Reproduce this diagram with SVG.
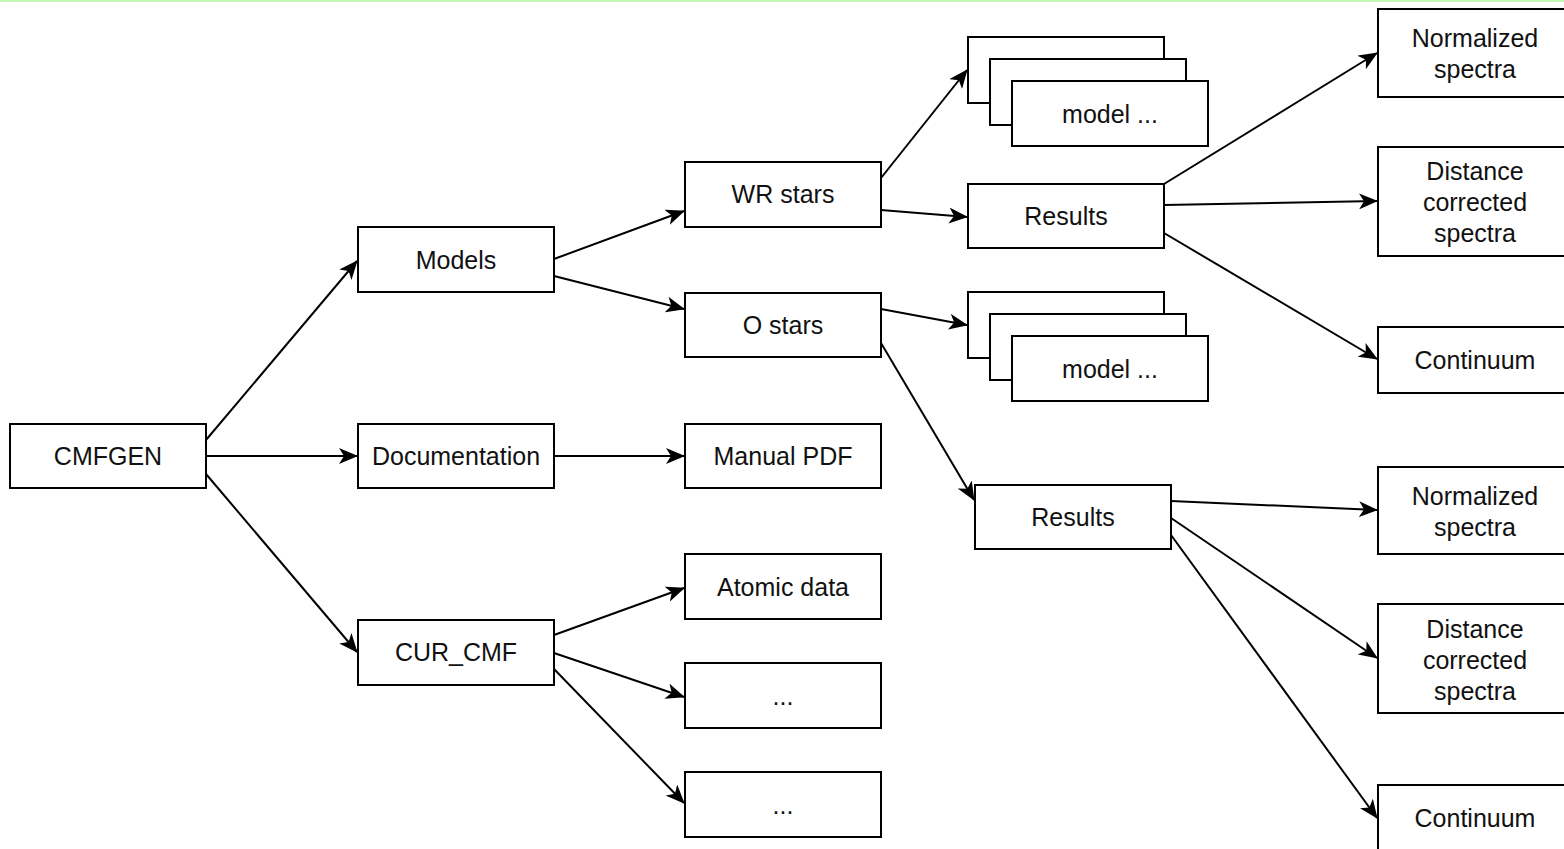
<svg xmlns="http://www.w3.org/2000/svg" width="1564" height="849" viewBox="0 0 1564 849">
<style>
  .box { fill: #ffffff; stroke: #000000; stroke-width: 2; }
  .lbl { font-family: "Liberation Sans", Arial, Helvetica, sans-serif; font-size: 25px; fill: #111111; text-anchor: middle; dominant-baseline: central; }
  .edge { fill: none; stroke: #000000; stroke-width: 2; marker-end: url(#arrow); }
</style>
<defs>
  <marker id="arrow" markerUnits="userSpaceOnUse" markerWidth="20" markerHeight="16" refX="18" refY="8" orient="auto">
    <path d="M0,0 L19,8 L0,16 L5,8 Z" fill="#000000"/>
  </marker>
</defs>
<rect x="0" y="0" width="1564" height="849" fill="#ffffff"/>
<line x1="0" y1="1" x2="1564" y2="1" stroke="#c4f7b8" stroke-width="2"/>

<g id="connectors">
  <line class="edge" x1="206" y1="440" x2="357" y2="261"/>
  <line class="edge" x1="206" y1="456" x2="357" y2="456"/>
  <line class="edge" x1="206" y1="474" x2="357" y2="652"/>
  <line class="edge" x1="554" y1="259" x2="684" y2="211"/>
  <line class="edge" x1="554" y1="276" x2="684" y2="309"/>
  <line class="edge" x1="554" y1="456" x2="684" y2="456"/>
  <line class="edge" x1="554" y1="635" x2="684" y2="588"/>
  <line class="edge" x1="554" y1="653" x2="684" y2="697"/>
  <line class="edge" x1="554" y1="669" x2="684" y2="803"/>
  <line class="edge" x1="881" y1="178" x2="967" y2="70"/>
  <line class="edge" x1="881" y1="210" x2="967" y2="217"/>
  <line class="edge" x1="881" y1="309" x2="967" y2="325"/>
  <line class="edge" x1="881" y1="343" x2="974" y2="500"/>
  <line class="edge" x1="1164" y1="184" x2="1377" y2="53"/>
  <line class="edge" x1="1164" y1="205" x2="1377" y2="201"/>
  <line class="edge" x1="1164" y1="233" x2="1377" y2="359"/>
  <line class="edge" x1="1171" y1="501" x2="1377" y2="510"/>
  <line class="edge" x1="1171" y1="518" x2="1377" y2="658"/>
  <line class="edge" x1="1171" y1="535" x2="1377" y2="818"/>
</g>

<g id="cmfgen"><rect class="box" x="10" y="424" width="196" height="64"/><text class="lbl" x="108" y="456">CMFGEN</text></g>
<g id="models"><rect class="box" x="358" y="227" width="196" height="65"/><text class="lbl" x="456" y="260">Models</text></g>
<g id="documentation"><rect class="box" x="358" y="424" width="196" height="64"/><text class="lbl" x="456" y="456">Documentation</text></g>
<g id="curcmf"><rect class="box" x="358" y="620" width="196" height="65"/><text class="lbl" x="456" y="652">CUR_CMF</text></g>

<g id="wrstars"><rect class="box" x="685" y="162" width="196" height="65"/><text class="lbl" x="783" y="194">WR stars</text></g>
<g id="ostars"><rect class="box" x="685" y="293" width="196" height="64"/><text class="lbl" x="783" y="325">O stars</text></g>
<g id="manualpdf"><rect class="box" x="685" y="424" width="196" height="64"/><text class="lbl" x="783" y="456">Manual PDF</text></g>
<g id="atomicdata"><rect class="box" x="685" y="554" width="196" height="65"/><text class="lbl" x="783" y="587">Atomic data</text></g>
<g id="dots1"><rect class="box" x="685" y="663" width="196" height="65"/><text class="lbl" x="783" y="696">...</text></g>
<g id="dots2"><rect class="box" x="685" y="772" width="196" height="65"/><text class="lbl" x="783" y="805">...</text></g>

<g id="wrmodels">
  <rect class="box" x="968" y="37" width="196" height="66"/>
  <rect class="box" x="990" y="59" width="196" height="66"/>
  <rect class="box" x="1012" y="81" width="196" height="65"/>
  <text class="lbl" x="1110" y="114">model ...</text>
</g>
<g id="wrresults"><rect class="box" x="968" y="184" width="196" height="64"/><text class="lbl" x="1066" y="216">Results</text></g>

<g id="omodels">
  <rect class="box" x="968" y="292" width="196" height="66"/>
  <rect class="box" x="990" y="314" width="196" height="66"/>
  <rect class="box" x="1012" y="336" width="196" height="65"/>
  <text class="lbl" x="1110" y="369">model ...</text>
</g>
<g id="oresults"><rect class="box" x="975" y="485" width="196" height="64"/><text class="lbl" x="1073" y="517">Results</text></g>

<g id="wrnorm"><rect class="box" x="1378" y="9" width="196" height="88"/><text class="lbl" x="1475" y="38">Normalized</text><text class="lbl" x="1475" y="69">spectra</text></g>
<g id="wrdist"><rect class="box" x="1378" y="147" width="196" height="109"/><text class="lbl" x="1475" y="171">Distance</text><text class="lbl" x="1475" y="202">corrected</text><text class="lbl" x="1475" y="233">spectra</text></g>
<g id="wrcont"><rect class="box" x="1378" y="327" width="196" height="66"/><text class="lbl" x="1475" y="360">Continuum</text></g>

<g id="onorm"><rect class="box" x="1378" y="467" width="196" height="87"/><text class="lbl" x="1475" y="496">Normalized</text><text class="lbl" x="1475" y="527">spectra</text></g>
<g id="odist"><rect class="box" x="1378" y="604" width="196" height="109"/><text class="lbl" x="1475" y="629">Distance</text><text class="lbl" x="1475" y="660">corrected</text><text class="lbl" x="1475" y="691">spectra</text></g>
<g id="ocont"><rect class="box" x="1378" y="785" width="196" height="66"/><text class="lbl" x="1475" y="818">Continuum</text></g>
</svg>
